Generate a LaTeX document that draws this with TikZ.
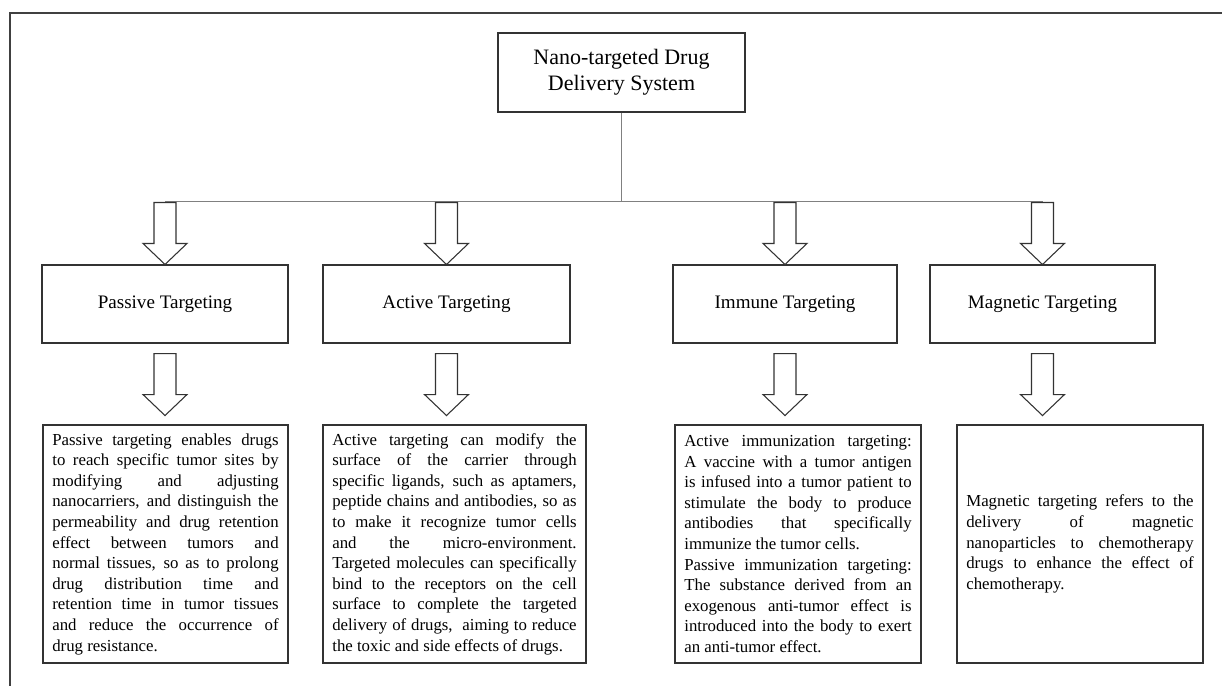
\documentclass[tikz,border=0pt]{standalone}
\usepackage{fontspec}
\setmainfont{Liberation Serif}
\usetikzlibrary{calc}
\tolerance=10000
\hbadness=10000
\hyphenpenalty=10000

\begin{document}
\begin{tikzpicture}[x=0.75pt,y=-0.75pt,
  main node/.style={draw=black!80,line width=0.8pt,fill=white,inner sep=0pt,align=center},
  title node/.style={main node,minimum width=185.25pt,minimum height=59.25pt,
    font=\fontsize{16.5}{19.5}\selectfont},
  head node/.style={main node,minimum height=58.5pt,font=\fontsize{14.3}{16}\selectfont},
  desc node/.style={draw=black!80,line width=0.8pt,minimum height=178.5pt,
    inner xsep=7pt,inner ysep=0pt,align=justify,font=\fontsize{12.6}{15.45}\selectfont,
    execute at begin node={\spaceskip=0.25em plus 2em minus 0.1em\relax}},
  link/.style={draw=black!50,line width=0.8pt},
  frame/.style={draw=black!75,line width=1.5pt},
  down arrow/.pic={\draw[black!80,line width=0.8pt,fill=white]
    (0,0) -- (-22,-21) -- (-11,-21) -- (-11,-62) -- (11,-62) -- (11,-21) -- (22,-21) -- cycle;}]

  \useasboundingbox (0,0) rectangle (1222,686);
  \draw[frame] (10,686) -- (10,13) -- (1222,13);

  \node[title node] (title) at (621.5,72.5) {Nano-targeted Drug\\Delivery System};

  \node[head node,minimum width=184.5pt] (passive) at (165,304) {Passive Targeting};
  \node[head node,minimum width=185.25pt] (active) at (446.5,304) {Active Targeting};
  \node[head node,minimum width=168pt] (immune) at (785,304) {Immune Targeting};
  \node[head node,minimum width=168.75pt] (magnetic) at (1042.5,304) {Magnetic Targeting};

  % bus line from the title down to the four arrows
  \coordinate (busL) at ($(passive.north)+(0,-63)$);
  \coordinate (busR) at ($(magnetic.north)+(0,-63)$);
  \draw[link] (title.south) -- (title.south |- busL);
  \draw[link] (busL) -- (busR);

  \foreach \n in {passive,active,immune,magnetic}{
    \pic at (\n.north) {down arrow};
    \pic at ($(\n.south)+(0,72)$) {down arrow};
  }

  \node[desc node,text width=169.75pt] (pdesc) at (165.5,544) {%
    Passive targeting enables drugs\linebreak
    to reach specific tumor sites by\linebreak
    modifying and adjusting\linebreak
    nanocarriers, and distinguish the\linebreak
    permeability and drug retention\linebreak
    effect between tumors and\linebreak
    normal tissues, so as to prolong\linebreak
    drug distribution time and\linebreak
    retention time in tumor tissues\linebreak
    and reduce the occurrence of\linebreak
    drug resistance.};

  \node[desc node,text width=183.25pt] (adesc) at (454.5,544) {%
    Active targeting can modify the\linebreak
    surface of the carrier through\linebreak
    specific ligands, such as aptamers,\linebreak
    peptide chains and antibodies, so as\linebreak
    to make it recognize tumor cells\linebreak
    and the micro-environment.\linebreak
    Targeted molecules can specifically\linebreak
    bind to the receptors on the cell\linebreak
    surface to complete the targeted\linebreak
    delivery of drugs,\ \ aiming to reduce\linebreak
    the toxic and side effects of drugs.};

  \node[desc node,text width=170.5pt] (idesc) at (798,544) {%
    Active immunization targeting:\linebreak
    A vaccine with a tumor antigen\linebreak
    is infused into a tumor patient to\linebreak
    stimulate the body to produce\linebreak
    antibodies that specifically\linebreak
    immunize the tumor cells.\\
    Passive immunization targeting:\linebreak
    The substance derived from an\linebreak
    exogenous anti-tumor effect is\linebreak
    introduced into the body to exert\linebreak
    an anti-tumor effect.};

  \node[desc node,text width=170.5pt] (mdesc) at (1080,544) {%
    Magnetic targeting refers to the\linebreak
    delivery of magnetic\linebreak
    nanoparticles to chemotherapy\linebreak
    drugs to enhance the effect of\linebreak
    chemotherapy.};
\end{tikzpicture}
\end{document}
